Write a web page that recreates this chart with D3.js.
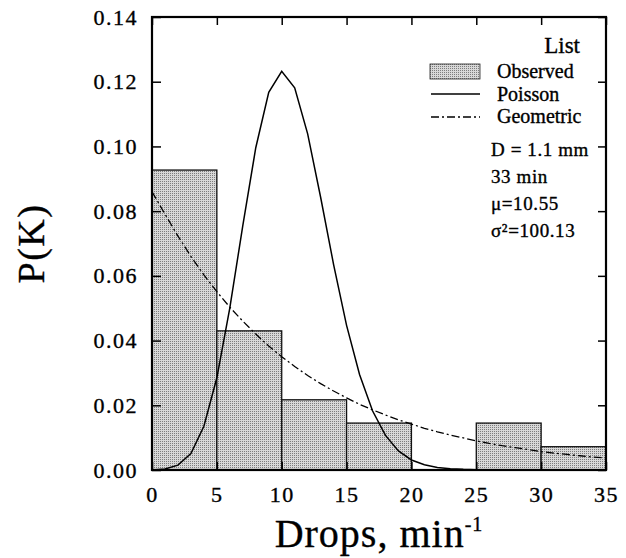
<!DOCTYPE html>
<html>
<head>
<meta charset="utf-8">
<script src="https://cdn.jsdelivr.net/npm/d3@7"></script>
<style>
  html, body { margin: 0; padding: 0; background: #fff; }
  svg { display: block; font-family: "Liberation Serif", "Times New Roman", serif; }
  svg text { stroke: #000; stroke-width: 0.35px; fill: #000; }
</style>
</head>
<body>
<div id="chart"></div>
<script>
const MARGIN = { top: 17, right: 20, bottom: 88, left: 152 };
const W = 626, H = 558;
const WIDTH = W - MARGIN.left - MARGIN.right;
const HEIGHT = H - MARGIN.top - MARGIN.bottom;

// observed histogram, bins of 5 drops/min
const binStarts = [0, 5, 10, 15, 20, 25, 30];
const observed = [0.0927, 0.0430, 0.0217, 0.0145, 0, 0.0145, 0.0072];

// Poisson fit, k = 0..25
const poissonK = d3.range(0, 26);
const poisson = [0.0000, 0.0003, 0.0015, 0.0051, 0.0135, 0.0285, 0.0501, 0.0755, 0.0996, 0.1167,
  0.1232, 0.1181, 0.1039, 0.0843, 0.0635, 0.0447, 0.0295, 0.0183, 0.0107, 0.0059,
  0.0031, 0.0016, 0.0008, 0.0004, 0.0002, 0.0001];

// Geometric fit, k = 0..35
const geomK = d3.range(0, 36);
const geometric = [0.0860, 0.0791, 0.0723, 0.0660, 0.0603, 0.0551, 0.0503, 0.0460, 0.0420, 0.0383,
  0.0350, 0.0320, 0.0292, 0.0267, 0.0244, 0.0223, 0.0203, 0.0186, 0.0170, 0.0155,
  0.0142, 0.0129, 0.0118, 0.0108, 0.0099, 0.0090, 0.0082, 0.0075, 0.0069, 0.0063,
  0.0057, 0.0052, 0.0048, 0.0044, 0.0040, 0.0037];

const xTicks = [0, 5, 10, 15, 20, 25, 30, 35];
const yTicks = [0, 0.02, 0.04, 0.06, 0.08, 0.10, 0.12, 0.14];
const infoLines = ["D = 1.1 mm", "33 min", "\u03bc=10.55", "\u03c3\u00b2=100.13"];

const svg = d3.select("#chart").append("svg")
  .attr("width", W).attr("height", H);

// stippled fill like the printed bars
const pat = svg.append("defs").append("pattern")
  .attr("id", "stipple").attr("width", 2).attr("height", 2)
  .attr("patternUnits", "userSpaceOnUse");
pat.append("rect").attr("width", 2).attr("height", 2).attr("fill", "#d8d8d8");
pat.append("rect").attr("width", 1).attr("height", 1).attr("fill", "#7d7d7d");

const x = d3.scaleLinear().domain([0, 35]).range([0, WIDTH]);
const y = d3.scaleLinear().domain([0, 0.14]).range([HEIGHT, 0]);

const g = svg.append("g").attr("transform", `translate(${MARGIN.left},${MARGIN.top})`);

// bars
g.selectAll("rect.bar")
  .data(binStarts.map((s, i) => ({ s, v: observed[i] })).filter(d => d.v > 0))
  .join("rect")
  .attr("class", "bar")
  .attr("x", d => x(d.s))
  .attr("width", d => x(d.s + 5) - x(d.s))
  .attr("y", d => y(d.v))
  .attr("height", d => y(0) - y(d.v))
  .attr("fill", "url(#stipple)")
  .attr("stroke", "#111")
  .attr("stroke-width", 1.3);

const line = d3.line().x(d => x(d[0])).y(d => y(d[1]));

g.append("path")
  .datum(poissonK.map((k, i) => [k, poisson[i]]))
  .attr("d", line)
  .attr("fill", "none").attr("stroke", "#000").attr("stroke-width", 1.5);

g.append("path")
  .datum(geomK.map((k, i) => [k, geometric[i]]))
  .attr("d", line)
  .attr("fill", "none").attr("stroke", "#000").attr("stroke-width", 1.3)
  .attr("stroke-dasharray", "8,3,2,3");

// axes, ticks pointing inward on all four sides
const fmtY = d3.format(".2f");
g.append("g").attr("transform", `translate(0,${HEIGHT})`)
  .call(d3.axisBottom(x).tickValues(xTicks).tickSizeInner(-8).tickSizeOuter(0).tickPadding(16));
g.append("g")
  .call(d3.axisLeft(y).tickValues(yTicks).tickFormat(fmtY).tickSizeInner(-9).tickSizeOuter(0).tickPadding(14));
g.append("g")
  .call(d3.axisTop(x).tickValues(xTicks).tickSizeInner(-8).tickSizeOuter(0).tickFormat(""));
g.append("g").attr("transform", `translate(${WIDTH},0)`)
  .call(d3.axisRight(y).tickValues(yTicks).tickSizeInner(-8).tickSizeOuter(0).tickFormat(""));

g.selectAll(".domain").remove();
g.selectAll(".tick line").attr("stroke", "#000").attr("stroke-width", 1.5);
g.selectAll(".tick text")
  .attr("fill", "#000")
  .attr("font-family", "Liberation Serif, serif")
  .attr("font-size", 22)
  .attr("letter-spacing", 1.5);

// frame
g.append("rect")
  .attr("width", WIDTH).attr("height", HEIGHT)
  .attr("fill", "none").attr("stroke", "#000").attr("stroke-width", 2.2);

// axis titles
svg.append("text")
  .attr("transform", `translate(44,${MARGIN.top + HEIGHT / 2}) rotate(-90)`)
  .attr("text-anchor", "middle")
  .attr("font-size", 38).attr("letter-spacing", 1.5)
  .text("P(K)");

const xt = svg.append("text")
  .attr("x", MARGIN.left + WIDTH / 2).attr("y", 547)
  .attr("text-anchor", "middle")
  .attr("font-size", 40).attr("letter-spacing", 1);
xt.append("tspan").text("Drops, min");
xt.append("tspan").attr("dy", -16).attr("font-size", 20).text("-1");

// legend
const lg = svg.append("g");
lg.append("text").attr("x", 580).attr("y", 53).attr("text-anchor", "end")
  .attr("font-size", 23).text("List");
lg.append("rect").attr("x", 430).attr("y", 64).attr("width", 50).attr("height", 15)
  .attr("fill", "url(#stipple)").attr("stroke", "#222").attr("stroke-width", 0.8);
lg.append("line").attr("x1", 431).attr("x2", 480).attr("y1", 94).attr("y2", 94)
  .attr("stroke", "#000").attr("stroke-width", 1.5);
lg.append("line").attr("x1", 431).attr("x2", 480).attr("y1", 117).attr("y2", 117)
  .attr("stroke", "#000").attr("stroke-width", 1.3).attr("stroke-dasharray", "8,3,2,3");
["Observed", "Poisson", "Geometric"].forEach((t, i) => {
  lg.append("text").attr("x", 497).attr("y", 78 + i * 22.5)
    .attr("font-size", 20).text(t);
});
infoLines.forEach((t, i) => {
  lg.append("text").attr("x", 491).attr("y", 156 + i * 27)
    .attr("font-size", 19).attr("letter-spacing", 0.6).text(t);
});
</script>
</body>
</html>
